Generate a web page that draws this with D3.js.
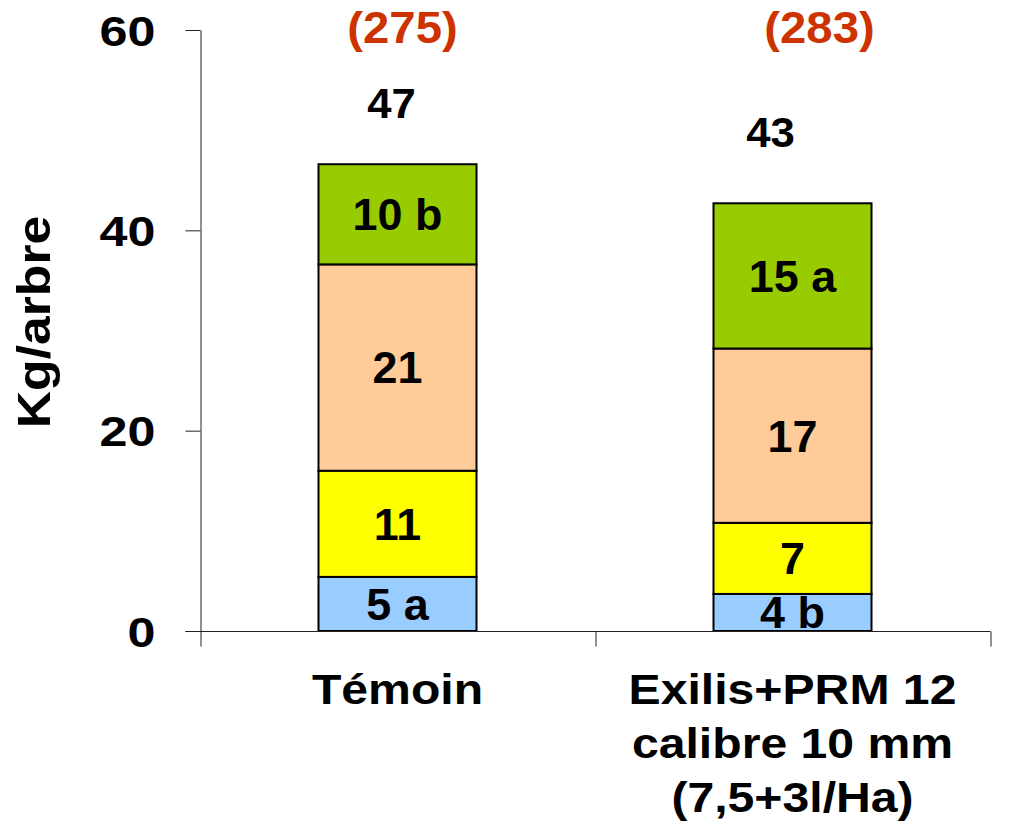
<!DOCTYPE html>
<html>
<head>
<meta charset="utf-8">
<script src="https://cdn.jsdelivr.net/npm/d3@7/dist/d3.min.js"></script>
<style>
  html, body { margin: 0; padding: 0; background: #fff; }
  text { font-family: "Liberation Sans", Arial, sans-serif; font-weight: bold; }
</style>
</head>
<body>
<div id="chart"></div>
<script>
// categories (multi-line labels)
const categories = ["Témoin", "Exilis+PRM 12|calibre 10 mm|(7,5+3l/Ha)"];
// stacked segments, bottom to top
const seriesNames = ["s1", "s2", "s3", "s4"];
const seriesColors = ["#99CCFF", "#FFFF00", "#FFCC99", "#99CC00"];
const s1 = [5.4, 3.7];
const s2 = [10.6, 7.1];
const s3 = [20.6, 17.4];
const s4 = [10.0, 14.5];
const segLabels = [["5 a", "11", "21", "10 b"], ["4 b", "7", "17", "15 a"]];
const totals = ["47", "43"];
const counts = ["(275)", "(283)"];
const yTicks = [0, 20, 40, 60];

// text boxes placed by hand in the original (offset from bar centre / bar top)
const totalOffsets = [[-6, -61], [-22, -71]];
const countOffsets = [5, 27];

const W = 1019, H = 829;

const svg = d3.select("#chart").append("svg")
    .attr("width", W)
    .attr("height", H);

const x = d3.scaleBand()
    .domain(categories)
    .range([200, 990])
    .paddingInner(0.6)
    .paddingOuter(0.3);

const y = d3.scaleLinear()
    .domain([0, 60])
    .range([631, 30]);

const rows = categories.map((c, i) => ({
    cat: c, s1: s1[i], s2: s2[i], s3: s3[i], s4: s4[i]
}));

const stacked = d3.stack().keys(seriesNames)(rows);

// bars
const layer = svg.selectAll(".layer")
    .data(stacked)
    .enter().append("g")
    .attr("class", "layer")
    .attr("fill", (d, i) => seriesColors[i]);

layer.selectAll("rect")
    .data(d => d)
    .enter().append("rect")
    .attr("x", d => x(d.data.cat))
    .attr("y", d => y(d[1]))
    .attr("width", x.bandwidth())
    .attr("height", d => y(d[0]) - y(d[1]))
    .attr("stroke", "#000")
    .attr("stroke-width", 2);

// segment labels
stacked.forEach((s, si) => {
    svg.selectAll(".seg" + si)
        .data(s)
        .enter().append("text")
        .attr("transform", d => `translate(${x(d.data.cat) + x.bandwidth() / 2},${(y(d[0]) + y(d[1])) / 2}) scale(1.02,1)`)
        .attr("text-anchor", "middle")
        .attr("dy", "0.36em")
        .attr("font-size", 44)
        .attr("fill", "#000")
        .text((d, i) => segLabels[i][si]);
});

// totals
const topLayer = stacked[stacked.length - 1];
svg.selectAll(".total")
    .data(topLayer)
    .enter().append("text")
    .attr("transform", (d, i) => `translate(${x(d.data.cat) + x.bandwidth() / 2 + totalOffsets[i][0]},${y(d[1]) + totalOffsets[i][1]}) scale(1.04,1)`)
    .attr("text-anchor", "middle")
    .attr("dy", "0.36em")
    .attr("font-size", 42)
    .attr("fill", "#000")
    .text((d, i) => totals[i]);

// counts in red
svg.selectAll(".count")
    .data(categories)
    .enter().append("text")
    .attr("transform", (d, i) => `translate(${x(d) + x.bandwidth() / 2 + countOffsets[i]},43) scale(1.05,1)`)
    .attr("text-anchor", "middle")
    .attr("font-size", 45)
    .attr("fill", "#CC3300")
    .text((d, i) => counts[i]);

// y axis
const yAxis = svg.append("g")
    .attr("transform", "translate(200.5,0)")
    .call(d3.axisLeft(y).tickValues(yTicks).tickSize(15).tickSizeOuter(0));
yAxis.select(".domain").attr("stroke", "#222");
yAxis.selectAll(".tick line").attr("stroke", "#222");
yAxis.selectAll(".tick text")
    .attr("font-size", 43)
    .attr("fill", "#000")
    .attr("x", null)
    .attr("dy", null)
    .attr("transform", "translate(-45,15) scale(1.17,1)")
    .attr("font-family", null);

// x axis: ticks at band boundaries
const xb = d3.scaleLinear().domain([0, categories.length]).range([200, 990]);
const xAxis = svg.append("g")
    .attr("transform", "translate(0.5,631.5)")
    .call(d3.axisBottom(xb).tickValues(d3.range(categories.length + 1)).tickFormat("").tickSize(15).tickSizeOuter(0));
xAxis.select(".domain").attr("d", "M185,0H990").attr("stroke", "#222");
xAxis.selectAll(".tick line").attr("stroke", "#222");

// category labels
categories.forEach((c, i) => {
    const lines = c.split("|");
    lines.forEach((ln, j) => {
        svg.append("text")
            .attr("transform", `translate(${x(c) + x.bandwidth() / 2},${704 + j * 54}) scale(1.12,1)`)
            .attr("text-anchor", "middle")
            .attr("font-size", 43)
            .attr("fill", "#000")
            .text(ln);
    });
});

// y axis title
svg.append("text")
    .attr("transform", "translate(50,322) rotate(-90) scale(1.1,1)")
    .attr("text-anchor", "middle")
    .attr("font-size", 47)
    .attr("fill", "#000")
    .text("Kg/arbre");
</script>
</body>
</html>
